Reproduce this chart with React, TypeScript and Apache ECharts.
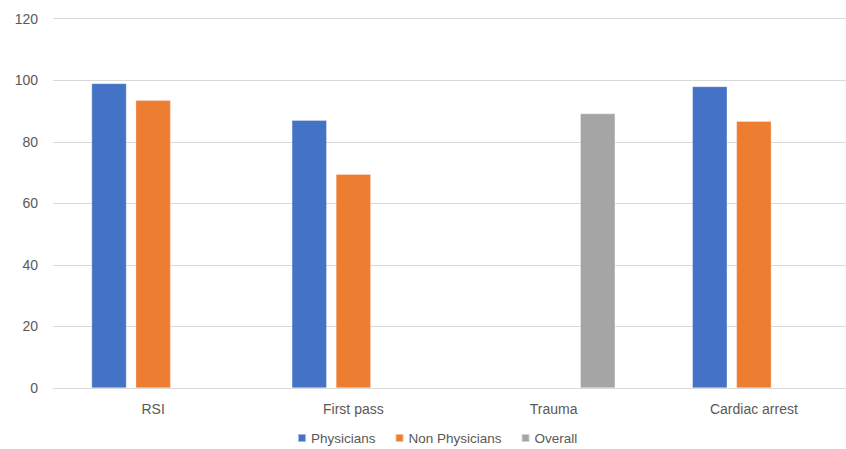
import React, { useEffect, useRef } from "react";
import * as echarts from "echarts";

const categories = ["RSI", "First pass", "Trauma", "Cardiac arrest"];
const physicians: (number | string)[] = [99, 87, "-", 98];
const nonPhysicians: (number | string)[] = [93.5, 69.5, "-", 86.7];
const overall: (number | string)[] = ["-", "-", 89.2, "-"];
const yTicks = { min: 0, max: 120, interval: 20 };

const FONT = "'Liberation Sans', Arial, sans-serif";
const TEXT = "#595959";

export default function App() {
  const ref = useRef<HTMLDivElement>(null);

  useEffect(() => {
    document.body.style.margin = "0";
    const chart = echarts.init(ref.current!, undefined, { renderer: "svg" });
    const barStyle = (color: string) => ({
      color,
      borderColor: "rgba(255,255,255,0.5)",
      borderWidth: 0.6,
    });
    chart.setOption({
      animation: false,
      textStyle: { fontFamily: FONT },
      grid: { left: 53, top: 18.7, right: 0, bottom: 61, containLabel: false },
      legend: {
        left: 297,
        top: 431,
        padding: 0,
        itemWidth: 8,
        itemHeight: 8,
        itemGap: 19,
        icon: "rect",
        textStyle: { color: TEXT, fontSize: 13.5, fontFamily: FONT },
        data: ["Physicians", "Non Physicians", "Overall"],
      },
      xAxis: {
        type: "category",
        data: categories,
        axisLine: { lineStyle: { color: "#d9d9d9", width: 1 } },
        axisTick: { show: false },
        axisLabel: { color: TEXT, fontSize: 14, margin: 14, fontFamily: FONT },
      },
      yAxis: {
        type: "value",
        min: yTicks.min,
        max: yTicks.max,
        interval: yTicks.interval,
        axisLine: { show: false },
        axisTick: { show: false },
        axisLabel: { color: TEXT, fontSize: 14, margin: 15, fontFamily: FONT },
        splitLine: { lineStyle: { color: "#d9d9d9", width: 1 } },
      },
      series: [
        {
          name: "Physicians",
          type: "bar",
          data: physicians,
          barWidth: 35,
          barGap: "26%",
          itemStyle: barStyle("#4472C4"),
        },
        {
          name: "Non Physicians",
          type: "bar",
          data: nonPhysicians,
          barWidth: 35,
          barGap: "26%",
          itemStyle: barStyle("#ED7D31"),
        },
        {
          name: "Overall",
          type: "bar",
          data: overall,
          barWidth: 35,
          barGap: "26%",
          itemStyle: barStyle("#A5A5A5"),
        },
      ],
    });
    return () => chart.dispose();
  }, []);

  return (
    <div
      style={{ width: 846, height: 449, position: "fixed", left: 0, top: 0, overflow: "hidden", background: "#fff" }}
    >
      <div ref={ref} style={{ width: 854, height: 449 }} />
    </div>
  );
}
